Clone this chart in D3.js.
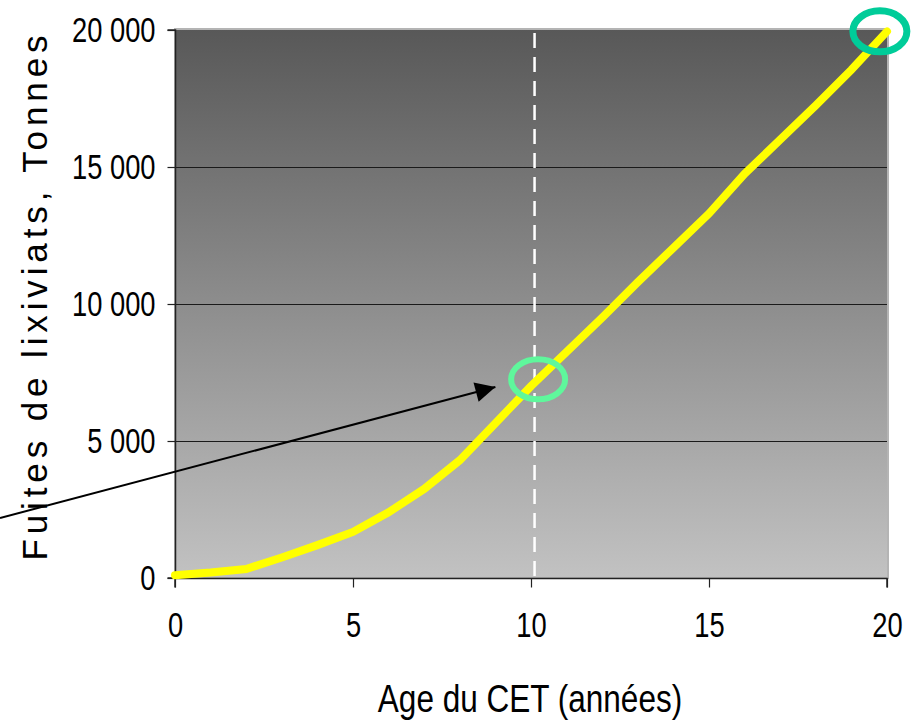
<!DOCTYPE html>
<html>
<head>
<meta charset="utf-8">
<script src="https://cdn.jsdelivr.net/npm/d3@7"></script>
<style>
  body { margin: 0; background: #fff; }
  text { fill: #000; }
</style>
</head>
<body>
<svg id="chart" width="912" height="728"></svg>
<script>
// age of the landfill (years) and cumulative leachate leaks (tonnes)
var years = [0, 1, 2, 3, 4, 5, 6, 7, 8, 9, 10, 11, 12, 13, 14, 15, 16, 17, 18, 19, 20];
var leaks = [100, 200, 330, 750, 1200, 1680, 2400, 3250, 4300, 5650, 7000, 8250, 9500, 10800, 12050, 13300, 14750, 16000, 17250, 18550, 19950];
var xTicks = [0, 5, 10, 15, 20];
var yTicks = [0, 5000, 10000, 15000, 20000];
var xLabel = "Age du CET (années)";
var yLabel = "Fuites de lixiviats, Tonnes";

var svg = d3.select("#chart");
var plotLeft = 175, plotRight = 887, plotTop = 30, plotBottom = 578;
var narrow = 0.78; // fake a condensed face, no narrow font installed

var x = d3.scaleLinear().domain([0, 20]).range([plotLeft, plotRight]);
var y = d3.scaleLinear().domain([0, 20000]).range([plotBottom, plotTop]);

var fmt = function (d) { return d3.format(",")(d).replace(/,/g, " "); };

// background gradient of the plot area
var defs = svg.append("defs");
var grad = defs.append("linearGradient")
  .attr("id", "bg").attr("x1", 0).attr("y1", 0).attr("x2", 0).attr("y2", 1);
grad.append("stop").attr("offset", "0%").attr("stop-color", "#585858");
grad.append("stop").attr("offset", "100%").attr("stop-color", "#c2c2c2");

defs.append("marker")
  .attr("id", "head")
  .attr("viewBox", "0 0 10 10")
  .attr("refX", 10).attr("refY", 5)
  .attr("markerWidth", 24).attr("markerHeight", 20)
  .attr("markerUnits", "userSpaceOnUse")
  .attr("orient", "auto")
  .append("path").attr("d", "M0,0L10,5L0,10Z").attr("fill", "#000");

svg.append("rect")
  .attr("x", plotLeft).attr("y", plotTop - 1)
  .attr("width", plotRight - plotLeft + 1).attr("height", plotBottom - plotTop + 1)
  .attr("fill", "url(#bg)")
  .attr("stroke", "#b4b4b4").attr("stroke-width", 2);

// gridlines
svg.append("g").selectAll("line")
  .data(yTicks.filter(function (d) { return d > 0 && d < 20000; }))
  .enter().append("line")
  .attr("x1", plotLeft).attr("x2", plotRight)
  .attr("y1", function (d) { return y(d) + 0.5; })
  .attr("y2", function (d) { return y(d) + 0.5; })
  .attr("stroke", "#1a1a1a").attr("stroke-width", 1.2);

// dashed marker at 10 years
svg.append("line")
  .attr("x1", x(10.1)).attr("x2", x(10.1))
  .attr("y1", y(20000) + 3).attr("y2", y(0))
  .attr("stroke", "#fff").attr("stroke-width", 2.5)
  .attr("stroke-dasharray", "15,9");

// axes
var yAxis = svg.append("g")
  .attr("transform", "translate(" + (plotLeft + 0.5) + ",0)")
  .call(d3.axisLeft(y).tickValues(yTicks).tickFormat(fmt).tickSize(8).tickPadding(12));
var xAxis = svg.append("g")
  .attr("transform", "translate(0," + (plotBottom + 0.5) + ")")
  .call(d3.axisBottom(x).tickValues(xTicks).tickSize(9).tickPadding(25));

[yAxis, xAxis].forEach(function (ax) {
  ax.select(".domain").attr("stroke", "#222").attr("stroke-width", 1.5);
  ax.selectAll(".tick line").attr("stroke", "#222").attr("stroke-width", 1.2);
  ax.selectAll("text")
    .style("font-family", "'Liberation Sans', Arial, sans-serif")
    .style("font-size", "35px")
    .attr("fill", "#000");
});
// squeeze tick labels horizontally, keeping their anchor in place
yAxis.selectAll(".tick text")
  .attr("x", -20 / narrow)
  .attr("transform", "scale(" + narrow + ",1)");
xAxis.selectAll(".tick text")
  .attr("transform", "scale(" + narrow + ",1)");
xAxis.select(".domain").attr("d", "M" + plotLeft + ",9V0H" + plotRight + "V9");
yAxis.select(".domain").attr("d", "M-8," + plotBottom + "H0V" + plotTop + "H-8");

// leak curve
var line = d3.line()
  .x(function (d, i) { return x(years[i]); })
  .y(function (d) { return y(d); });

svg.append("path")
  .datum(leaks)
  .attr("d", line)
  .attr("fill", "none")
  .attr("stroke", "#ffff00")
  .attr("stroke-width", 8)
  .attr("stroke-linejoin", "miter")
  .attr("stroke-linecap", "round");

// circled points
svg.append("ellipse")
  .attr("cx", x(10.2)).attr("cy", y(7250))
  .attr("rx", 27).attr("ry", 20)
  .attr("fill", "none").attr("stroke", "#5ff79c").attr("stroke-width", 6);
svg.append("ellipse")
  .attr("cx", x(19.8)).attr("cy", y(19950))
  .attr("rx", 27).attr("ry", 20.5)
  .attr("fill", "none").attr("stroke", "#00cc99").attr("stroke-width", 7);

// arrow pointing at the 10-year mark
svg.append("line")
  .attr("x1", 0).attr("y1", 518)
  .attr("x2", x(9.0)).attr("y2", y(6970))
  .attr("stroke", "#000").attr("stroke-width", 2)
  .attr("marker-end", "url(#head)");

// titles
svg.append("text")
  .attr("transform", "translate(" + ((plotLeft + plotRight) / 2 - 1) + ",712) scale(0.83,1)")
  .attr("text-anchor", "middle")
  .style("font-family", "'Liberation Sans', Arial, sans-serif")
  .style("font-size", "38px")
  .text(xLabel);

svg.append("text")
  .attr("transform", "translate(47,298) rotate(-90)")
  .attr("text-anchor", "middle")
  .attr("textLength", 525)
  .attr("lengthAdjust", "spacing")
  .style("font-family", "'Liberation Sans', Arial, sans-serif")
  .style("font-size", "35px")
  .text(yLabel);
</script>
</body>
</html>
